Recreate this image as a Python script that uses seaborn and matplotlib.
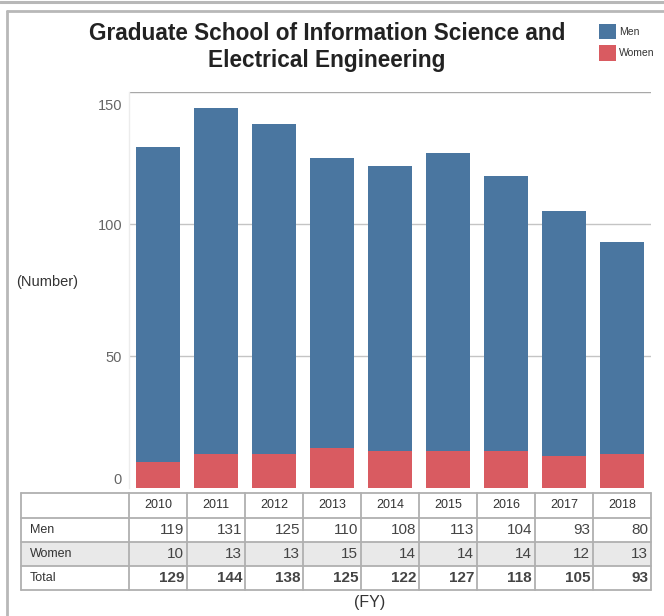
import matplotlib
matplotlib.use("Agg")
import matplotlib.pyplot as plt
from matplotlib.lines import Line2D
from matplotlib.patches import Rectangle, Patch
from matplotlib.transforms import ScaledTranslation
from matplotlib import font_manager
import seaborn as sns
import pandas as pd

years = ["2010", "2011", "2012", "2013", "2014", "2015", "2016", "2017", "2018"]
men = [119, 131, 125, 110, 108, 113, 104, 93, 80]
women = [10, 13, 13, 15, 14, 14, 14, 12, 13]
total = [m + w for m, w in zip(men, women)]
y_ticks = [0, 50, 100, 150]

title = "Graduate School of Information Science and\nElectrical Engineering"
row_names = ["Men", "Women", "Total"]

BLUE = "#4a76a0"
RED = "#d95b61"

sns.set_theme(style="white")
plt.rcParams["font.family"] = ["Liberation Sans", "DejaVu Sans"]

avail = {f.name for f in font_manager.fontManager.ttflist}
narrow = [f for f in ["Liberation Sans Narrow", "DejaVu Sans Condensed"] if f in avail]
num_family = narrow + ["Liberation Sans"]

W, H = 664, 616
fig = plt.figure(figsize=(W / 100, H / 100), dpi=100)


def fx(x):
    return x / W


def fy(y):
    return 1 - y / H


# plot area
x0, x1, ytop, ybot = 129, 651, 92, 488
ax = fig.add_axes([fx(x0), fy(ybot), fx(x1) - fx(x0), fy(ytop) - fy(ybot)])

df = pd.DataFrame({"year": years, "Men": men, "Women": women, "Total": total})
sns.barplot(data=df, x="year", y="Total", color=BLUE, saturation=1, width=0.75,
            linewidth=0, ax=ax)
sns.barplot(data=df, x="year", y="Women", color=RED, saturation=1, width=0.75,
            linewidth=0, ax=ax)

ax.set_xlim(-0.5, len(years) - 0.5)
ax.set_ylim(0, 150)
ax.set_xlabel("")
ax.set_ylabel("")
ax.set_xticks([])
ax.set_yticks(y_ticks)
ax.set_yticklabels([str(t) for t in y_ticks])
ax.tick_params(axis="y", length=0, pad=5, labelsize=10.5, labelcolor="#666666")
for t in y_ticks[1:]:
    ax.axhline(t, color="#c4c4c4" if t < 150 else "#a8a8a8", lw=1, zorder=0)
for s in ["top", "right", "bottom"]:
    ax.spines[s].set_visible(False)
ax.spines["left"].set_color("#ececec")
ax.spines["left"].set_linewidth(1)

# nudge the end labels inward
labels = ax.get_yticklabels()
labels[-1].set_transform(labels[-1].get_transform() + ScaledTranslation(0, -0.12, fig.dpi_scale_trans))
labels[0].set_transform(labels[0].get_transform() + ScaledTranslation(0, 0.09, fig.dpi_scale_trans))

# titles and labels
fig.text(fx(327), fy(47), title, ha="center", va="center", fontsize=16.3,
         fontweight="bold", color="#222222", linespacing=1.2)
fig.text(fx(16), fy(282), "(Number)", ha="left", va="center", fontsize=10.5, color="#333333")
fig.text(fx(370), fy(603), "(FY)", ha="center", va="center", fontsize=11.5, color="#333333")

handles = [Patch(facecolor=BLUE, edgecolor="none"), Patch(facecolor=RED, edgecolor="none")]
leg = fig.legend(handles, ["Men", "Women"], loc="upper left",
                 bbox_to_anchor=(fx(599), fy(24)), bbox_transform=fig.transFigure,
                 frameon=False, fontsize=7.5, handlelength=1.6, handleheight=1.9,
                 labelspacing=0.55, handletextpad=0.3, borderaxespad=0, borderpad=0)
for t in leg.get_texts():
    t.set_color("#333333")

# outer frame
fig.add_artist(Line2D([0, 1], [fy(1.5), fy(1.5)], transform=fig.transFigure, color="#b8b8b8", lw=2.2))
fig.add_artist(Line2D([fx(7), 1], [fy(11), fy(11)], transform=fig.transFigure, color="#b8b8b8", lw=2))
fig.add_artist(Line2D([fx(7), fx(7)], [fy(11), 0], transform=fig.transFigure, color="#b8b8b8", lw=2))

# data table beneath the bars
tl, tc, tr = 21, 129, 651
rows_y = [493, 518, 542, 566, 590]
col_w = (tr - tc) / len(years)
col_x = [tc + i * col_w for i in range(len(years) + 1)]

fig.add_artist(Rectangle((fx(tl), fy(rows_y[3])), fx(tr) - fx(tl), fy(rows_y[2]) - fy(rows_y[3]),
                         transform=fig.transFigure, facecolor="#e9e9e9", edgecolor="none"))
grid_kw = dict(transform=fig.transFigure, color="#b0b0b0", lw=1.3)
for yy in rows_y:
    fig.add_artist(Line2D([fx(tl), fx(tr)], [fy(yy), fy(yy)], **grid_kw))
for xx in [tl] + col_x:
    fig.add_artist(Line2D([fx(xx), fx(xx)], [fy(rows_y[0]), fy(rows_y[-1])], **grid_kw))

for i, yr in enumerate(years):
    cx = (col_x[i] + col_x[i + 1]) / 2
    fig.text(fx(cx), fy((rows_y[0] + rows_y[1]) / 2), yr, ha="center", va="center",
             fontsize=9, color="#333333")

series = [men, women, total]
for r, (name, vals) in enumerate(zip(row_names, series)):
    cy = (rows_y[r + 1] + rows_y[r + 2]) / 2
    fig.text(fx(tl + 9), fy(cy), name, ha="left", va="center", fontsize=9, color="#333333")
    for i, v in enumerate(vals):
        fig.text(fx(col_x[i + 1] - 3), fy(cy), str(v), ha="right", va="center",
                 fontsize=11, family=num_family, color="#444444",
                 fontweight="bold" if name == "Total" else "normal")

fig.savefig("out.png", dpi=100)
